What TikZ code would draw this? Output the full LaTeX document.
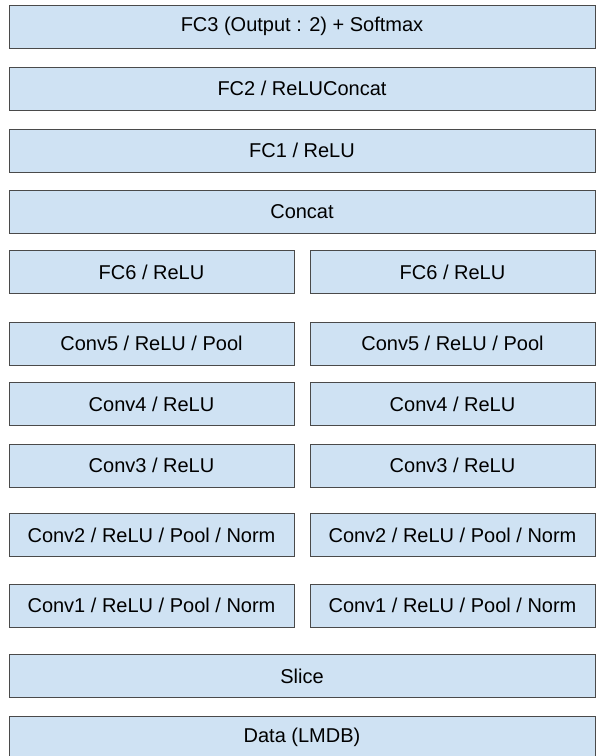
\documentclass[tikz,border=0pt]{standalone}
\usepackage{fontspec}
\setmainfont{Liberation Sans}
\usetikzlibrary{positioning}
\definecolor{layerblue}{HTML}{CFE2F3}
\definecolor{layerline}{HTML}{4A4A4A}

\begin{document}
\begin{tikzpicture}[% shared looks for every layer box
			every node/.style={
				rectangle,
				draw=layerline,
				line width=1pt,
				fill=layerblue,
				outer sep=0pt,
				minimum height=43pt,
				font=\fontsize{20pt}{24pt}\selectfont
			},
			wide/.style={minimum width=586pt},	% one box across the picture
			half/.style={minimum width=285pt}	% one box of a column
		]
		\useasboundingbox (0,0) rectangle (596pt,-756pt);
		\node[wide](fc3) at (302pt,-26.5pt){FC3 (Output : 2) + Softmax};
		\node[wide](fc2)[below=19pt of fc3]{FC2 / ReLUConcat};
		\node[wide](fc1)[below=19pt of fc2]{FC1 / ReLU};
		\node[wide](concat)[below=18pt of fc1]{Concat};
		% left column
		\node[half](fc6l)[below=17.5pt of concat.south west,anchor=north west]{FC6 / ReLU};
		\node[half](conv5l)[below=28.5pt of fc6l]{Conv5 / ReLU / Pool};
		\node[half](conv4l)[below=17.5pt of conv5l]{Conv4 / ReLU};
		\node[half](conv3l)[below=18.5pt of conv4l]{Conv3 / ReLU};
		\node[half](conv2l)[below=26.5pt of conv3l]{Conv2 / ReLU / Pool / Norm};
		\node[half](conv1l)[below=27.5pt of conv2l]{Conv1 / ReLU / Pool / Norm};
		% right column
		\node[half](fc6r)[right=16pt of fc6l]{FC6 / ReLU};
		\node[half](conv5r)[right=16pt of conv5l]{Conv5 / ReLU / Pool};
		\node[half](conv4r)[right=16pt of conv4l]{Conv4 / ReLU};
		\node[half](conv3r)[right=16pt of conv3l]{Conv3 / ReLU};
		\node[half](conv2r)[right=16pt of conv2l]{Conv2 / ReLU / Pool / Norm};
		\node[half](conv1r)[right=16pt of conv1l]{Conv1 / ReLU / Pool / Norm};
		\node[wide](slice)[below=27.5pt of conv1l.south west,anchor=north west]{Slice};
		\node[wide](data)[below=18.5pt of slice]{Data (LMDB)};
	\end{tikzpicture}
\end{document}
